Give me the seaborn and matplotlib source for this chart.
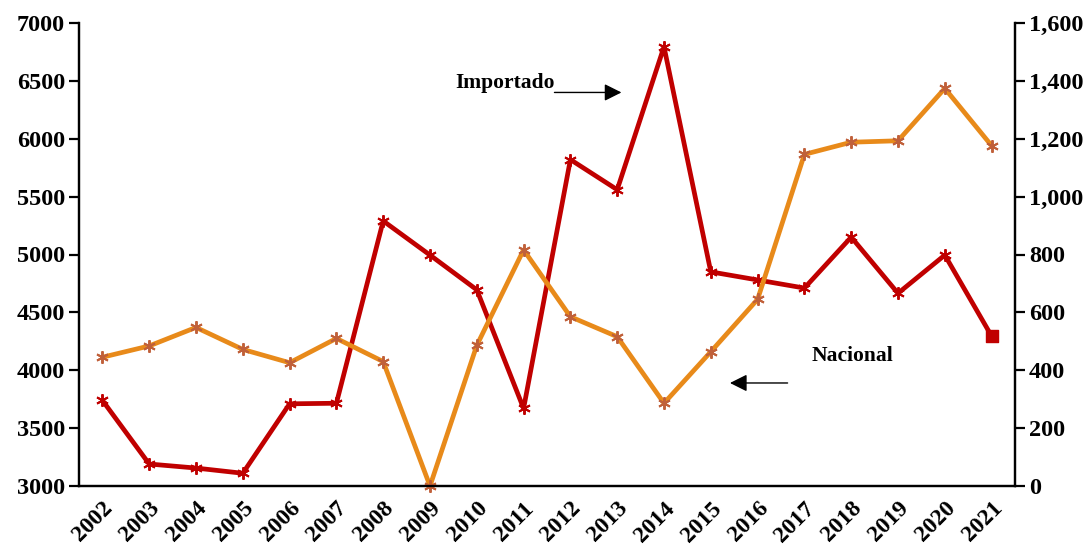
import numpy as np
import pandas as pd
import matplotlib as mpl
mpl.use("Agg")
import matplotlib.pyplot as plt
from matplotlib.ticker import FuncFormatter
import seaborn as sns

years = [2002, 2003, 2004, 2005, 2006, 2007, 2008, 2009, 2010, 2011,
         2012, 2013, 2014, 2015, 2016, 2017, 2018, 2019, 2020, 2021]
importado = [3740, 3190, 3155, 3110, 3710, 3715, 5290, 4995, 4695, 3670,
             5820, 5560, 6795, 4850, 4780, 4710, 5150, 4665, 4995, 4295]
nacional = [445, 484, 548, 472, 426, 510, 430, 0, 486, 816,
            585, 516, 286, 464, 645, 1146, 1188, 1193, 1374, 1176]

df = pd.DataFrame({"idx": range(len(years)), "year": years,
                   "importado": importado, "nacional": nacional})

sns.set_style("white")
plt.rcParams["font.family"] = ["Liberation Serif", "DejaVu Serif"]
plt.rcParams["font.weight"] = "bold"
for k in ("text.color", "axes.labelcolor", "xtick.color", "ytick.color"):
    plt.rcParams[k] = "black"

fig = plt.figure(figsize=(10.92, 5.48), dpi=100)
ax = fig.add_axes([79 / 1092, 62 / 548, 936 / 1092, 463 / 548])
ax2 = ax.twinx()

red = "#C00000"
orange = "#E88A1A"
star = (6, 2, 0)

sns.lineplot(data=df, x="idx", y="importado", ax=ax, color=red, linewidth=3.4,
             marker=star, markersize=9, markeredgecolor=red, markeredgewidth=1.4,
             sort=False)
last = df.iloc[[-1]]
ax.scatter(last["idx"], last["importado"], marker="s", s=80, color=red, zorder=5)

sns.lineplot(data=df, x="idx", y="nacional", ax=ax2, color=orange, linewidth=3.4,
             marker=star, markersize=9, markeredgecolor="#C0603A",
             markeredgewidth=1.4, sort=False, clip_on=False)

ax.set_xlim(-0.5, len(years) - 0.5)
ax.set_ylim(3000, 7000)
ax.set_yticks(np.arange(3000, 7001, 500))
ax2.set_ylim(0, 1600)
ax2.set_yticks(np.arange(0, 1601, 200))
ax2.yaxis.set_major_formatter(FuncFormatter(lambda v, p: f"{int(v):,}"))

ax.set_xticks(df["idx"])
ax.set_xticklabels(years, rotation=45, ha="right", rotation_mode="anchor")
ax.set_xlabel("")
ax.set_ylabel("")
ax2.set_ylabel("")

for a in (ax, ax2):
    a.spines["top"].set_visible(False)
    for s in a.spines.values():
        s.set_linewidth(1.6)
        s.set_color("black")

ax.tick_params(axis="y", which="major", left=True, length=7, width=1.6,
               labelsize=17.5, pad=3)
ax.tick_params(axis="x", bottom=False, labelsize=17, pad=5)
ax2.tick_params(axis="y", right=True, length=7, width=1.6, labelsize=17.5, pad=3)
for lab in ax.get_xticklabels() + ax.get_yticklabels() + ax2.get_yticklabels():
    lab.set_fontweight("bold")

ax.text(7.55, 6480, "Importado", fontsize=15.5, fontweight="bold", va="center", ha="left")
ax.annotate("", xy=(11.15, 6400), xytext=(9.6, 6400),
            arrowprops=dict(arrowstyle="-|>", color="black", lw=1, mutation_scale=26))
ax.text(15.15, 4125, "Nacional", fontsize=15.5, fontweight="bold", va="center", ha="left")
ax.annotate("", xy=(13.35, 3890), xytext=(14.7, 3890),
            arrowprops=dict(arrowstyle="-|>", color="black", lw=1, mutation_scale=26))

fig.savefig("out.png", dpi=100)
